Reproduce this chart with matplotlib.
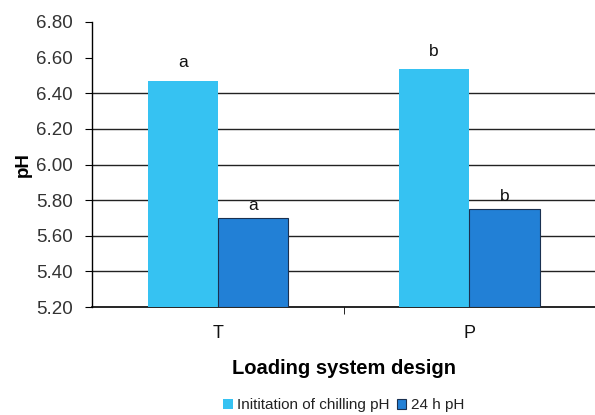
import matplotlib
matplotlib.use("Agg")
import matplotlib.pyplot as plt
import numpy as np

categories = ["T", "P"]
init_ph = [6.47, 6.535]
ph_24h = [5.70, 5.75]
init_letters = ["a", "b"]
h24_letters = ["a", "b"]
yticks = [5.20, 5.40, 5.60, 5.80, 6.00, 6.20, 6.40, 6.60, 6.80]
gridlines = [5.40, 5.60, 5.80, 6.00, 6.20, 6.40]

plt.rcParams['font.family'] = ['Liberation Sans', 'DejaVu Sans']

fig = plt.figure(figsize=(5.95, 4.15), dpi=100)
ax = fig.add_axes([0.155, 0.26, 0.845, 0.687])

x = np.arange(len(categories))
w = 0.28
light = "#36C2F2"
dark = "#2280D6"
b1 = ax.bar(x - w/2, [v - 5.2 for v in init_ph], width=w, bottom=5.2, color=light,
            edgecolor="none", zorder=3, label="Inititation of chilling pH")
b2 = ax.bar(x + w/2, [v - 5.2 for v in ph_24h], width=w, bottom=5.2, color=dark,
            edgecolor="#1a3050", linewidth=0.8, zorder=3, label="24 h pH")

for g in gridlines:
    ax.axhline(g, color="#222222", linewidth=1.0, zorder=1)

for i in range(len(categories)):
    ax.text(x[i] - w/2, init_ph[i] + 0.06, init_letters[i], ha="center", va="bottom",
            fontsize=12.5, color="#111111")
    ax.text(x[i] + w/2, ph_24h[i] + 0.03, h24_letters[i], ha="center", va="bottom",
            fontsize=12.5, color="#111111")

ax.set_xlim(-0.5, 1.5)
ax.set_ylim(5.2, 6.8)
ax.set_yticks(yticks)
ax.set_yticklabels([f"{t:.2f}" for t in yticks], fontsize=13.5, color="#333333")
ax.set_xticks(x)
ax.set_xticklabels(categories, fontsize=13, color="#111111")
ax.set_xticks([0.5], minor=True)
ax.tick_params(axis="x", which="major", length=0, pad=13)
ax.tick_params(axis="x", which="minor", length=5, direction="out")
ax.tick_params(axis="y", length=5, direction="out", pad=9)

for s in ["top", "right"]:
    ax.spines[s].set_visible(False)
ax.spines["left"].set_linewidth(1.0)
ax.spines["bottom"].set_linewidth(1.2)

ax.set_ylabel("pH", fontsize=13.5, fontweight="bold", labelpad=3)
ax.set_xlabel("Loading system design", fontsize=14.5, fontweight="bold", labelpad=12)

fig.legend(handles=[b1, b2], loc="center", bbox_to_anchor=(0.578, 0.024), ncol=2,
           frameon=False, fontsize=11, handlelength=0.6, handleheight=0.6,
           handletextpad=0.3, columnspacing=0.5, labelcolor="#222222")

fig.savefig("out.png", dpi=100)
